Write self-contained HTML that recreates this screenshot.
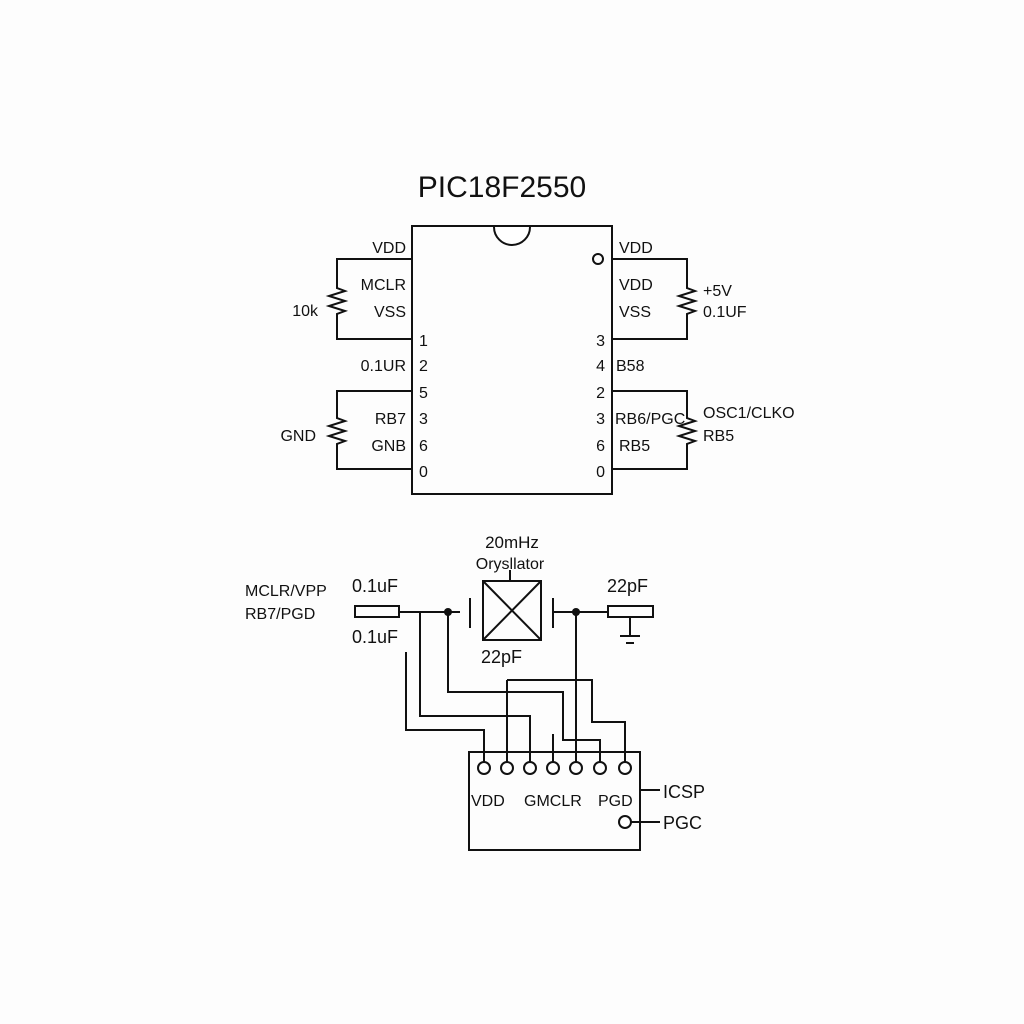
<!DOCTYPE html>
<html><head><style>html,body{margin:0;background:#fff}</style></head><body>
<svg width="1024" height="1024" xmlns="http://www.w3.org/2000/svg" style="display:block">
<rect width="1024" height="1024" fill="#fdfdfd"/>
<g font-family="Liberation Sans, sans-serif" fill="#111" font-size="16">
<text x="502" y="197" font-size="30" text-anchor="middle">PIC18F2550</text>
</g>
<g stroke="#111" stroke-width="2" fill="none">
<rect x="412" y="226" width="200" height="268"/>
<path d="M494 227 A18 18 0 0 0 530 227" fill="#fff"/>
<circle cx="598" cy="259" r="5"/>
<path d="M412 259 H337 V288 l8 3 -16 5 16 5 -16 5 16 5 -8 3 V339 H412"/>
<path d="M412 391 H337 V418 l8 3 -16 5 16 5 -16 5 16 5 -8 3 V469 H412"/>
<path d="M612 259 H687 V288 l8 3 -16 5 16 5 -16 5 16 5 -8 3 V339 H612"/>
<path d="M612 391 H687 V418 l8 3 -16 5 16 5 -16 5 16 5 -8 3 V469 H612"/>
<rect x="355" y="606" width="44" height="11"/>
<path d="M399 612 H460 M470 598 V628 M553 598 V628 M553 612 H608"/>
<rect x="608" y="606" width="45" height="11"/>
<path d="M630 617 V636 M620 636 H640 M626 643 H634"/>
<rect x="483" y="581" width="58" height="59"/>
<path d="M483 581 L541 640 M541 581 L483 640 M510 581 V570"/>
<path d="M406 652 V730 H484 V762"/>
<path d="M420 612 V716 H530 V762"/>
<path d="M448 612 V692 H563 V740 H600 V762"/>
<path d="M507 680 V762 M507 680 H592 V722 H625 V762"/>
<path d="M576 612 V762 M553 734 V762"/>
<rect x="469" y="752" width="171" height="98"/>
<path d="M640 790 H660 M631 822 H660"/>
</g>
<g fill="#111"><circle cx="448" cy="612" r="4"/><circle cx="576" cy="612" r="4"/></g>
<g stroke="#111" stroke-width="2" fill="#fff">
<circle cx="484" cy="768" r="6"/><circle cx="507" cy="768" r="6"/><circle cx="530" cy="768" r="6"/><circle cx="553" cy="768" r="6"/><circle cx="576" cy="768" r="6"/><circle cx="600" cy="768" r="6"/><circle cx="625" cy="768" r="6"/><circle cx="625" cy="822" r="6"/>
</g>
<g font-family="Liberation Sans, sans-serif" fill="#111" font-size="16">
<g text-anchor="end">
<text x="406" y="253">VDD</text><text x="406" y="290">MCLR</text><text x="406" y="317">VSS</text>
<text x="318" y="316">10k</text><text x="406" y="371">0.1UR</text><text x="406" y="424">RB7</text>
<text x="406" y="451">GNB</text><text x="316" y="441">GND</text>
<text x="605" y="346">3</text><text x="605" y="371">4</text><text x="605" y="398">2</text><text x="605" y="424">3</text><text x="605" y="451">6</text><text x="605" y="477">0</text>
</g>
<text x="419" y="346">1</text><text x="419" y="371">2</text><text x="419" y="398">5</text><text x="419" y="424">3</text><text x="419" y="451">6</text><text x="419" y="477">0</text>
<text x="619" y="253">VDD</text><text x="619" y="290">VDD</text><text x="619" y="317">VSS</text>
<text x="703" y="296">+5V</text><text x="703" y="317">0.1UF</text>
<text x="616" y="371">B58</text><text x="615" y="424">RB6/PGC</text><text x="619" y="451">RB5</text>
<text x="703" y="418">OSC1/CLKO</text><text x="703" y="441">RB5</text>
<text x="512" y="548" font-size="17" text-anchor="middle">20mHz</text>
<text x="510" y="569" text-anchor="middle">Orysllator</text>
<text x="245" y="596">MCLR/VPP</text><text x="245" y="619">RB7/PGD</text>
<text x="352" y="592" font-size="18">0.1uF</text><text x="352" y="643" font-size="18">0.1uF</text>
<text x="607" y="592" font-size="18">22pF</text><text x="481" y="663" font-size="18">22pF</text>
<text x="471" y="806">VDD</text><text x="524" y="806">GMCLR</text><text x="598" y="806">PGD</text>
<text x="663" y="798" font-size="18">ICSP</text><text x="663" y="829" font-size="18">PGC</text>
</g>
</svg>
</body></html>
